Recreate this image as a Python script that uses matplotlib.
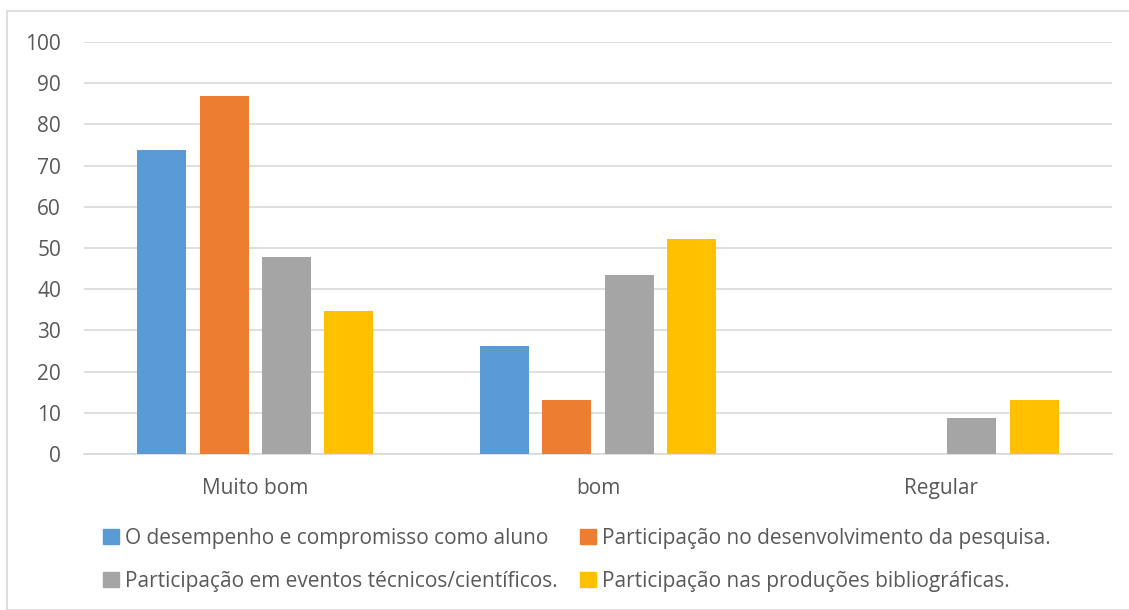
import matplotlib.pyplot as plt
import numpy as np
from matplotlib.patches import Rectangle

categories = ['Muito bom', 'bom', 'Regular']
series_names = [
    'O desempenho e compromisso como aluno',
    'Participação no desenvolvimento da pesquisa.',
    'Participação em eventos técnicos/científicos.',
    'Participação nas produções bibliográficas.',
]
desempenho = [73.9, 26.1, 0]
pesquisa = [87.0, 13.0, 0]
eventos = [47.8, 43.5, 8.7]
producoes = [34.8, 52.2, 13.0]
colors = ['#5B9BD5', '#ED7D31', '#A5A5A5', '#FFC000']
yticks = list(range(0, 101, 10))

plt.rcParams['font.family'] = ['Open Sans', 'DejaVu Sans']
text_color = '#595959'
fs = 15

fig = plt.figure(figsize=(11.29, 6.10), dpi=100)
ax = fig.add_axes([84 / 1129, 1 - 454 / 610, 1028 / 1129, 412 / 610])

x = np.arange(len(categories))
step = 0.182
width = 0.143
for i, (vals, name) in enumerate(zip([desempenho, pesquisa, eventos, producoes], series_names)):
    ax.bar(x + (i - 1.5) * step, vals, width, color=colors[i], label=name, zorder=3)

ax.set_xlim(-0.5, 2.5)
ax.set_ylim(0, 100)
ax.set_yticks(yticks)
ax.set_xticks(x)
ax.set_xticklabels(categories)
ax.grid(axis='y', color='#D9D9D9', linewidth=1.2, zorder=0)
for s in ['top', 'right', 'left']:
    ax.spines[s].set_visible(False)
ax.spines['bottom'].set_color('#D9D9D9')
ax.spines['bottom'].set_linewidth(1.2)
ax.tick_params(axis='both', length=0, labelsize=fs, colors=text_color)
ax.tick_params(axis='y', pad=16.5)
ax.tick_params(axis='x', pad=17)

# legend filled row by row, as in the original
order = [0, 2, 1, 3]
handles = [Rectangle((0, 0), 1, 1, color=colors[k]) for k in order]
labels = [series_names[k] for k in order]
fig.legend(handles, labels, loc='center', bbox_to_anchor=(577 / 1129, 1 - 560 / 610),
           ncol=2, frameon=False, fontsize=fs, labelcolor=text_color,
           handlelength=0.75, handleheight=0.75, handletextpad=0.3, columnspacing=1.1,
           labelspacing=1.05)

fig.patches.append(Rectangle((7 / 1129, 0), 1.2, 1 - 11 / 610, transform=fig.transFigure,
                             fill=False, edgecolor='#D9D9D9', linewidth=1.2))

fig.savefig('out.png', dpi=100)
